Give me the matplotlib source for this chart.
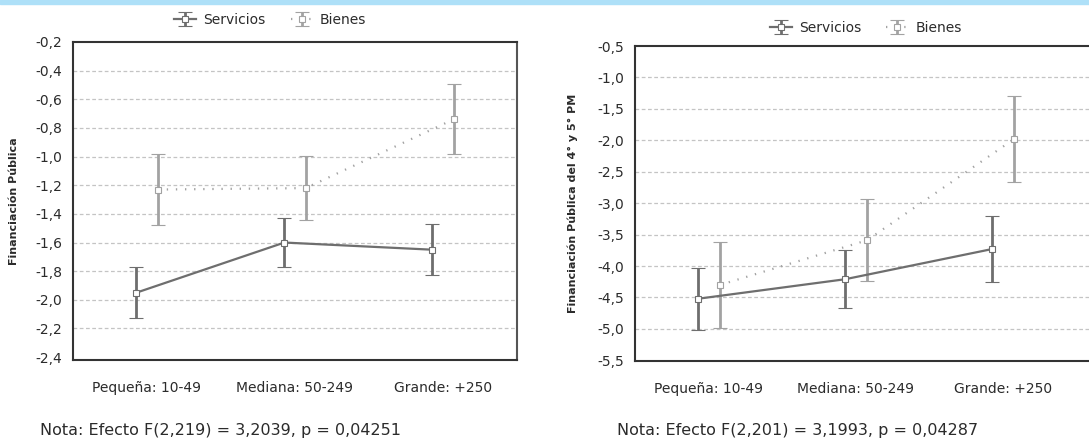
import numpy as np
import matplotlib.pyplot as plt
from matplotlib.ticker import FuncFormatter

# categories and data
categorias = ["Pequeña: 10-49", "Mediana: 50-249", "Grande: +250"]

# panel 1: Financiación Pública
serv_1 = [-1.95, -1.60, -1.65]
serv_1_err = [0.18, 0.17, 0.18]
bien_1 = [-1.23, -1.22, -0.74]
bien_1_err = [0.245, 0.225, 0.245]
yticks_1 = [-0.2, -0.4, -0.6, -0.8, -1.0, -1.2, -1.4, -1.6, -1.8, -2.0, -2.2, -2.4]
nota_1 = "Nota: Efecto F(2,219) = 3,2039, p = 0,04251"

# panel 2: Financiación Pública del 4° y 5° PM
serv_2 = [-4.52, -4.21, -3.73]
serv_2_err = [0.49, 0.46, 0.53]
bien_2 = [-4.30, -3.59, -1.98]
bien_2_err = [0.68, 0.65, 0.69]
yticks_2 = [-0.5, -1.0, -1.5, -2.0, -2.5, -3.0, -3.5, -4.0, -4.5, -5.0, -5.5]
nota_2 = "Nota: Efecto F(2,201) = 3,1993, p = 0,04287"

C_SERV = "#6e6e6e"
C_BIEN = "#a2a2a2"
TXT = "#2b2b2b"

plt.rcParams['font.family'] = ['DejaVu Sans']

fig = plt.figure(figsize=(10.89, 4.42), dpi=100)
# light blue band at the top
fig.patches.append(plt.Rectangle((0, 1 - 4 / 442), 1, 4 / 442, transform=fig.transFigure,
                                 color="#aee0f8", zorder=0))

W, H = 1089, 442


def panel(rect, serv, serv_err, bien, bien_err, yticks, ylim, xlim, off, ylabel,
          ylabel_x, leg_anchor, fmt, right_spine=True):
    ax = fig.add_axes(rect)
    x = np.arange(len(categorias))
    ax.errorbar(x - off, serv, yerr=serv_err, color=C_SERV, lw=1.6, elinewidth=2,
                capsize=5.2, capthick=2, marker='s', ms=4, mfc='white', mec=C_SERV,
                mew=0.8, label="Servicios", zorder=3)
    eb2 = ax.errorbar(x + off, bien, yerr=bien_err, color=C_BIEN, lw=1.6, elinewidth=2,
                      capsize=5.2, capthick=2, marker='s', ms=4, mfc='white', mec=C_BIEN,
                      mew=0.8, label="Bienes", zorder=3)
    eb2.lines[0].set_linestyle((0, (0.6, 3.5)))
    ax.set_xlim(*xlim)
    ax.set_ylim(*ylim)
    ax.set_xticks(x)
    ax.set_xticklabels(categorias, fontsize=10, color=TXT)
    ax.set_yticks(yticks)
    ax.yaxis.set_major_formatter(FuncFormatter(lambda v, p: fmt.format(v).replace('.', ',')))
    ax.tick_params(axis='both', length=0, labelsize=10, labelcolor=TXT)
    ax.tick_params(axis='y', pad=8)
    ax.tick_params(axis='x', pad=15)
    ax.grid(axis='y', color='#c4c4c4', ls=(0, (3, 2)), lw=0.9)
    # no grid line on the first and last tick (they sit on the frame)
    gl = ax.yaxis.get_gridlines()
    gl[0].set_visible(False)
    gl[-1].set_visible(False)
    ax.set_axisbelow(True)
    for s in ['left', 'bottom', 'top']:
        ax.spines[s].set_color('#333333')
        ax.spines[s].set_linewidth(1.5)
    ax.spines['right'].set_visible(right_spine)
    ax.spines['right'].set_color('#555555')
    ax.spines['right'].set_linewidth(1.5)
    ax.set_ylabel(ylabel, fontsize=8, fontweight='bold', color=TXT)
    ax.yaxis.set_label_coords(ylabel_x, 0.5)
    ax.legend(loc='center', bbox_to_anchor=leg_anchor, ncol=2, frameon=False,
              fontsize=10, handlelength=1.6, handletextpad=0.5, columnspacing=1.8,
              labelcolor=TXT)
    return ax


panel([73 / W, 1 - 360 / H, 444 / W, 318 / H], serv_1, serv_1_err, bien_1, bien_1_err,
      yticks_1, (-2.42, -0.2), (-0.5, 2.5), 0.072, "Financiación Pública", -0.122,
      (0.444, 1.07), "{:.1f}")
panel([635 / W, 1 - 361 / H, 460 / W, 315 / H], serv_2, serv_2_err, bien_2, bien_2_err,
      yticks_2, (-5.51, -0.525), (-0.503, 2.626), 0.075,
      "Financiación Pública del 4° y 5° PM", -0.124, (0.502, 1.057), "{:.1f}",
      right_spine=False)

fig.text(40 / W, 1 - 431 / H, nota_1, fontsize=11.5, color=TXT, va='center')
fig.text(617 / W, 1 - 431 / H, nota_2, fontsize=11.5, color=TXT, va='center')

fig.savefig("out.png", dpi=100)
